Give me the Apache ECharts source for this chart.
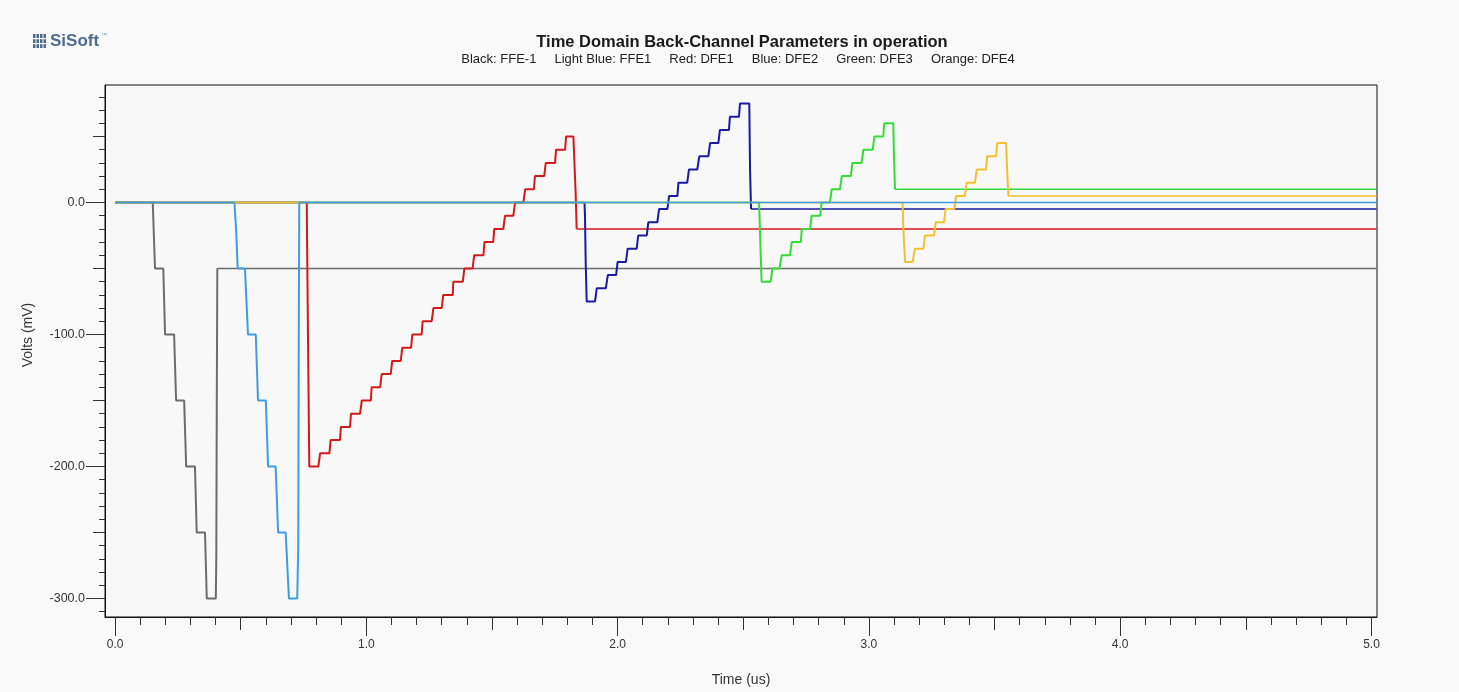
<!DOCTYPE html>
<html>
<head>
<meta charset="utf-8">
<script src="https://cdn.jsdelivr.net/npm/echarts@6/dist/echarts.min.js"></script>
<style>
html,body{margin:0;padding:0;background:#f9f9f9;}
#chart{width:1459px;height:692px;}
</style>
</head>
<body>
<div id="chart"></div>
<script>
// ---- tick values ----
const xMajorTicks = [0, 1, 2, 3, 4, 5];
const xMediumTicks = [0.5, 1.5, 2.5, 3.5, 4.5];
const xMinorTicks = [0.1,0.2,0.3,0.4,0.6,0.7,0.8,0.9,
  1.1,1.2,1.3,1.4,1.6,1.7,1.8,1.9,
  2.1,2.2,2.3,2.4,2.6,2.7,2.8,2.9,
  3.1,3.2,3.3,3.4,3.6,3.7,3.8,3.9,
  4.1,4.2,4.3,4.4,4.6,4.7,4.8,4.9];
const yMajorTicks = [-300, -200, -100, 0];
const yMediumTicks = [-250, -150, -50, 50];
const yMinorTicks = [-310,-290,-280,-270,-260,-240,-230,-220,-210,
  -190,-180,-170,-160,-140,-130,-120,-110,
  -90,-80,-70,-60,-40,-30,-20,-10,10,20,30,40,60,70,80];

// ---- series data: [time (us), volts (mV)] ----
const ffeM1Black = [[0,0],[0.150,0],[0.159,-50],[0.192,-50],[0.199,-100],[0.235,-100],
  [0.243,-150],[0.275,-150],[0.283,-200],[0.318,-200],[0.325,-250],[0.358,-250],
  [0.365,-300],[0.401,-300],[0.403,-268],[0.405,-143],[0.407,-50],[5.02,-50]];

const ffe1LightBlue = [[0,0],[0.475,0],[0.482,-21],[0.488,-50],[0.517,-50],[0.529,-100],
  [0.560,-100],[0.569,-150],[0.600,-150],[0.609,-200],[0.639,-200],[0.649,-250],
  [0.679,-250],[0.692,-300],[0.725,-300],[0.729,-262],[0.731,-113],[0.733,0],[5.02,0]];

const dfe1Red = [[0,0],[0.763,0],[0.764,-25],[0.769,-125],[0.773,-200],[0.809,-200],
  [0.816,-190],[0.853,-190],[0.858,-180],[0.895,-180],[0.899,-170],[0.935,-170],
  [0.939,-160],[0.975,-160],[0.982,-150],[1.018,-150],[1.021,-140],[1.055,-140],
  [1.061,-130],[1.097,-130],[1.103,-120],[1.137,-120],[1.143,-110],[1.178,-110],
  [1.183,-100],[1.220,-100],[1.224,-90],[1.260,-90],[1.267,-80],[1.300,-80],
  [1.306,-70],[1.344,-70],[1.346,-60],[1.384,-60],[1.390,-50],[1.423,-50],
  [1.429,-40],[1.466,-40],[1.470,-30],[1.505,-30],[1.509,-20],[1.545,-20],
  [1.552,-10],[1.585,-10],[1.592,0],[1.625,0],[1.632,10],[1.667,10],
  [1.671,20],[1.708,20],[1.714,30],[1.751,30],[1.755,40],[1.791,40],
  [1.795,50],[1.824,50],[1.833,7],[1.837,-20],[5.02,-20]];

const dfe2Blue = [[0,0],[1.868,0],[1.870,-9],[1.873,-46],[1.877,-75],[1.910,-75],
  [1.917,-65],[1.953,-65],[1.961,-55],[1.994,-55],[2.000,-45],[2.033,-45],
  [2.040,-35],[2.076,-35],[2.082,-25],[2.116,-25],[2.122,-15],[2.158,-15],
  [2.165,-5],[2.198,-5],[2.205,5],[2.238,5],[2.242,15],[2.277,15],
  [2.284,25],[2.317,25],[2.325,35],[2.361,35],[2.368,45],[2.401,45],
  [2.407,55],[2.443,55],[2.447,65],[2.483,65],[2.487,75],[2.524,75],
  [2.527,25],[2.531,-5],[5.02,-5]];

const dfe3Green = [[0,0],[2.563,0],[2.569,-37],[2.573,-60],[2.609,-60],
  [2.616,-50],[2.644,-50],[2.653,-40],[2.686,-40],[2.693,-30],[2.729,-30],
  [2.733,-20],[2.766,-20],[2.772,-10],[2.806,-10],[2.812,0],[2.845,0],
  [2.852,10],[2.885,10],[2.892,20],[2.928,20],[2.934,30],[2.971,30],
  [2.978,40],[3.015,40],[3.022,50],[3.057,50],[3.061,60],[3.097,60],
  [3.100,33],[3.104,10],[5.02,10]];

const dfe4Orange = [[0,0],[3.134,0],[3.137,-20],[3.144,-45],[3.174,-45],
  [3.183,-35],[3.217,-35],[3.223,-25],[3.259,-25],[3.266,-15],[3.299,-15],
  [3.305,-5],[3.340,-5],[3.347,5],[3.382,5],[3.389,15],[3.422,15],
  [3.429,25],[3.466,25],[3.471,35],[3.506,35],[3.511,45],[3.546,45],
  [3.550,25],[3.555,5],[5.02,5]];

const seriesDefs = [
  {name: 'FFE-1', data: ffeM1Black, color: '#6c6c6c'},
  {name: 'DFE1', data: dfe1Red, color: '#d31a1a'},
  {name: 'DFE2', data: dfe2Blue, color: '#1a1aa6'},
  {name: 'DFE3', data: dfe3Green, color: '#36dc36'},
  {name: 'DFE4', data: dfe4Orange, color: '#f5c02e'},
  {name: 'FFE1', data: ffe1LightBlue, color: '#3e9de0'}
];

const FONT = '"Liberation Sans", Arial, sans-serif';
const X_MIN = -0.04, X_MAX = 5.022, Y_MIN = -314, Y_MAX = 89;

function xAx(ticks, len, main) {
  return {
    type: 'value', position: 'bottom', min: X_MIN, max: X_MAX, gridIndex: 0,
    axisLine: {show: !!main, onZero: false, lineStyle: {color: '#111', width: 1}},
    axisTick: {show: true, customValues: ticks, length: len, lineStyle: {color: '#333', width: 1}},
    axisLabel: main ? {show: true, customValues: ticks, margin: 22, color: '#333',
      fontFamily: FONT, fontSize: 12, formatter: v => Number(v).toFixed(1)} : {show: false},
    splitLine: {show: false}, minorTick: {show: false}
  };
}
function yAx(ticks, len, main) {
  return {
    type: 'value', position: 'left', min: Y_MIN, max: Y_MAX, gridIndex: 0,
    axisLine: {show: !!main, onZero: false, lineStyle: {color: '#111', width: 1}},
    axisTick: {show: true, customValues: ticks, length: len, lineStyle: {color: '#333', width: 1}},
    axisLabel: main ? {show: true, customValues: ticks, margin: 20, color: '#333',
      fontFamily: FONT, fontSize: 12.5, formatter: v => Number(v).toFixed(1)} : {show: false},
    splitLine: {show: false}, minorTick: {show: false}
  };
}

// Each trace is drawn as its flat lead-in, its active staircase, and its flat tail.
const series = [];
seriesDefs.forEach(s => {
  const n = s.data.length;
  const parts = [
    {data: s.data.slice(0, 2), width: 1.4},
    {data: s.data.slice(1, n - 1), width: 2},
    {data: s.data.slice(n - 2), width: 1.5}
  ];
  parts.forEach(p => series.push({
    name: s.name, type: 'line', data: p.data, xAxisIndex: 0, yAxisIndex: 0,
    showSymbol: false, symbol: 'none', smooth: false,
    lineStyle: {color: s.color, width: p.width}, itemStyle: {color: s.color},
    emphasis: {disabled: true}
  }));
});

const chart = echarts.init(document.getElementById('chart'), null, {renderer: 'canvas'});
const option = {
  animation: false,
  backgroundColor: '#f9f9f9',
  grid: {left: 105, right: 82, top: 85, bottom: 75, show: true,
    backgroundColor: '#f8f8f8', borderColor: '#111', borderWidth: 1},
  xAxis: [xAx(xMajorTicks, 19, true), xAx(xMediumTicks, 13, false), xAx(xMinorTicks, 8, false)],
  yAxis: [yAx(yMajorTicks, 19, true), yAx(yMediumTicks, 12, false), yAx(yMinorTicks, 6, false)],
  series: series,
  graphic: [
    {type: 'text', x: 742, y: 42, style: {text: 'Time Domain Back-Channel Parameters in operation',
      font: 'bold 16.5px ' + FONT, fill: '#1a1a1a', textAlign: 'center', textVerticalAlign: 'middle'}},
    {type: 'text', x: 738, y: 59, style: {text: 'Black: FFE-1     Light Blue: FFE1     Red: DFE1     Blue: DFE2     Green: DFE3     Orange: DFE4',
      font: '13px ' + FONT, fill: '#222', textAlign: 'center', textVerticalAlign: 'middle'}},
    {type: 'text', x: 28, y: 335, rotation: Math.PI / 2, style: {text: 'Volts (mV)',
      font: '14px ' + FONT, fill: '#333', textAlign: 'center', textVerticalAlign: 'middle'}},
    {type: 'text', x: 741, y: 680, style: {text: 'Time (us)',
      font: '14px ' + FONT, fill: '#333', textAlign: 'center', textVerticalAlign: 'middle'}},
    // SiSoft logo
    {type: 'group', x: 33, y: 34, children: [
      {type: 'rect', shape: {x: 0, y: 0, width: 2.5, height: 14}, style: {fill: '#4f6b8c'}},
      {type: 'rect', shape: {x: 3.5, y: 0, width: 2.5, height: 14}, style: {fill: '#4f6b8c'}},
      {type: 'rect', shape: {x: 7, y: 0, width: 2.5, height: 14}, style: {fill: '#4f6b8c'}},
      {type: 'rect', shape: {x: 10.5, y: 0, width: 2.5, height: 14}, style: {fill: '#4f6b8c'}},
      {type: 'rect', shape: {x: 0, y: 4, width: 13, height: 1.2}, style: {fill: '#f9f9f9'}},
      {type: 'rect', shape: {x: 0, y: 9, width: 13, height: 1.2}, style: {fill: '#f9f9f9'}}
    ]},
    {type: 'text', x: 50, y: 41, style: {text: 'SiSoft', font: 'bold 17px ' + FONT,
      fill: '#4f6b8c', textVerticalAlign: 'middle'}},
    {type: 'text', x: 101, y: 35, style: {text: '™', font: '6px ' + FONT,
      fill: '#8a9ab0', textVerticalAlign: 'middle'}}
  ]
};
chart.setOption(option);
</script>
</body>
</html>
